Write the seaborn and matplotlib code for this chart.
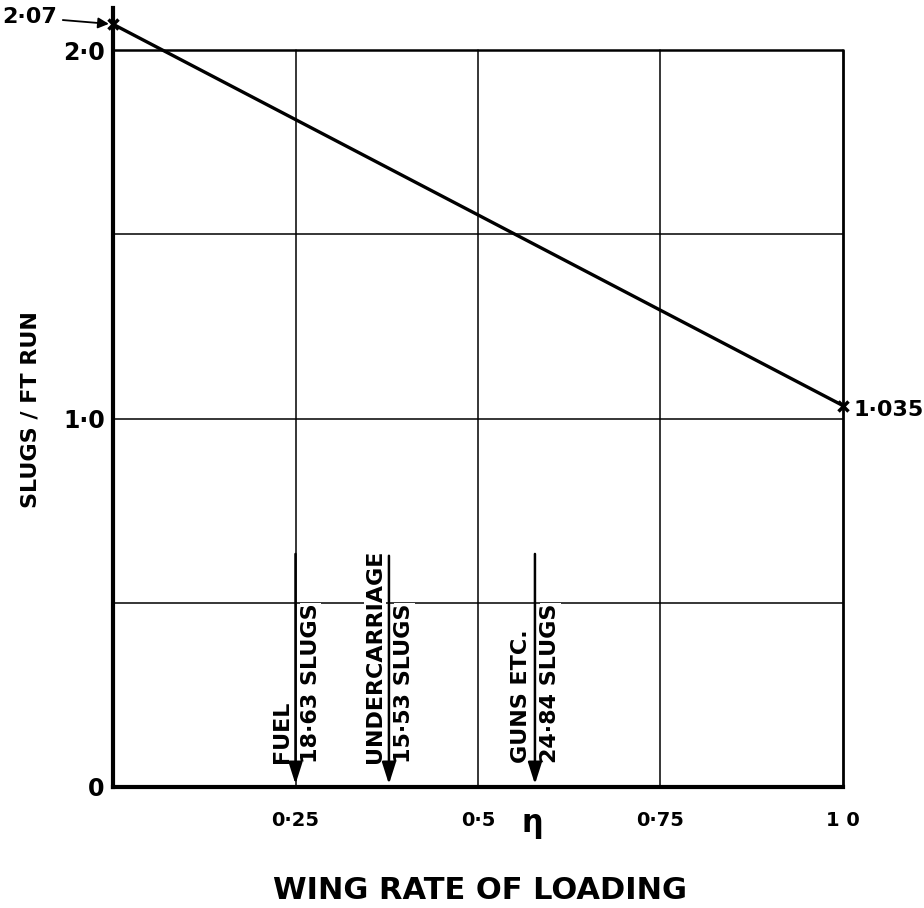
import matplotlib
matplotlib.use("Agg")
import matplotlib.pyplot as plt
import seaborn as sns
import pandas as pd

# data
eta = [0.0, 1.0]
slugs_per_ft = [2.07, 1.035]
end_labels = ["2·07", "1·035"]
x_ticks = [0.25, 0.5, 0.75, 1.0]
x_tick_labels = ["0·25", "0·5", "0·75", "1 0"]
y_ticks = [0.0, 1.0, 2.0]
y_tick_labels = ["0", "1·0", "2·0"]
grid_x = [0.25, 0.5, 0.75]
grid_y = [0.5, 1.0, 1.5]
item_names = ["FUEL", "UNDERCARRIAGE", "GUNS ETC."]
item_masses = ["18·63 SLUGS", "15·53 SLUGS", "24·84 SLUGS"]
item_eta = [0.25, 0.378, 0.578]
item_arrow_top = [0.64, 0.635, 0.64]

sns.set_theme(style="white")
plt.rcParams['font.family'] = ['DejaVu Sans']
plt.rcParams['text.color'] = 'black'
plt.rcParams['axes.labelcolor'] = 'black'
plt.rcParams['xtick.color'] = 'black'
plt.rcParams['ytick.color'] = 'black'

fig = plt.figure(figsize=(9.24, 9.08), dpi=100)
ax = fig.add_axes([113/924, 1-787/908, 730/924, 779/908])

df = pd.DataFrame({"eta": eta, "slugs": slugs_per_ft})
sns.lineplot(data=df, x="eta", y="slugs", ax=ax, color="black", linewidth=2.4,
             marker="x", markersize=7, markeredgewidth=2.5, markeredgecolor="black",
             zorder=5, clip_on=False)

ax.set_xlim(0, 1.0)
ax.set_ylim(0, 2.114)

# grid
for gx in grid_x:
    ax.plot([gx, gx], [0, 2.0], color="black", lw=1.1, zorder=1)
for gy in grid_y:
    ax.plot([0, 1.0], [gy, gy], color="black", lw=1.1, zorder=1)
# top border at 2.0 and right border at 1.0
ax.plot([0, 1.0], [2.0, 2.0], color="black", lw=1.8, zorder=2)
ax.plot([1.0, 1.0], [0, 2.0], color="black", lw=2.0, zorder=2, clip_on=False)

for s in ["top", "right"]:
    ax.spines[s].set_visible(False)
for s in ["left", "bottom"]:
    ax.spines[s].set_linewidth(3.0)
    ax.spines[s].set_color("black")

ax.set_xticks(x_ticks)
ax.set_xticklabels(x_tick_labels, fontsize=14, fontweight="bold")
ax.set_yticks(y_ticks)
ax.set_yticklabels(y_tick_labels, fontsize=17, fontweight="bold")
ax.tick_params(axis="both", length=0)
ax.tick_params(axis="x", pad=17)
ax.tick_params(axis="y", pad=6)
ax.text(0.575, -0.048, "η", fontsize=22, fontweight="bold", ha="center", va="center",
        transform=ax.get_xaxis_transform())

ax.set_xlabel("WING RATE OF LOADING", fontsize=22, fontweight="bold")
ax.xaxis.set_label_coords((480-113)/730, (787-876)/779)
ax.set_ylabel("SLUGS / FT RUN", fontsize=16, fontweight="bold")
ax.yaxis.set_label_coords((40-113)/730, (787-410)/779)

# end annotations
ax.annotate(end_labels[0], xy=(eta[0], slugs_per_ft[0]), xytext=(-80, 5),
            textcoords="offset points", fontsize=16, fontweight="bold",
            ha="left", va="center",
            arrowprops=dict(arrowstyle="-|>", color="black", lw=1.3, shrinkA=2, shrinkB=3),
            annotation_clip=False)
ax.text(1.015, slugs_per_ft[1] - 0.012, end_labels[1], fontsize=16, fontweight="bold",
        ha="left", va="center")

# item arrows and labels
for name, mass, xe, top in zip(item_names, item_masses, item_eta, item_arrow_top):
    ax.annotate("", xy=(xe, 0.0), xytext=(xe, top),
                arrowprops=dict(arrowstyle="-|>,head_length=1.1,head_width=0.35",
                                color="black", lw=1.8), zorder=4)
    ax.text(xe - 0.019, 0.065, name, rotation=90, fontsize=16, fontweight="bold",
            ha="center", va="bottom",
            bbox=dict(facecolor="white", edgecolor="none", pad=0.5), zorder=3)
    ax.text(xe + 0.021, 0.065, mass, rotation=90, fontsize=16, fontweight="bold",
            ha="center", va="bottom",
            bbox=dict(facecolor="white", edgecolor="none", pad=0.5), zorder=3)

fig.savefig("out.png", dpi=100)
